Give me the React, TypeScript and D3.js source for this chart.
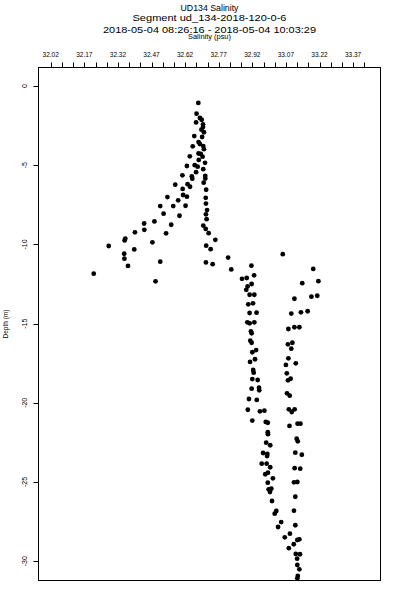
import React from "react";
import * as d3 from "d3";

const titleLines = [
  "UD134 Salinity",
  "Segment ud_134-2018-120-0-6",
  "2018-05-04 08:26:16 - 2018-05-04 10:03:29",
];
const xAxisLabel = "Salinity (psu)";
const yAxisLabel = "Depth (m)";

const xTickLabels = ["32.02", "32.17", "32.32", "32.47", "32.62", "32.77", "32.92", "33.07", "33.22", "33.37"];
const xMinorStart = 32.02;
const xMinorStep = 0.05;
const xMinorCount = 29;
const yTicks = [0, -5, -10, -15, -20, -25, -30];

const salinity = [
  32.679, 32.671, 32.686, 32.694, 32.669, 32.700, 32.700, 32.693, 32.704, 32.661,
  32.696, 32.680, 32.686, 32.701, 32.654, 32.704, 32.680, 32.690, 32.698, 32.641,
  32.681, 32.709, 32.628, 32.663, 32.676, 32.701, 32.669, 32.608, 32.650, 32.710,
  32.652, 32.710, 32.703, 32.576, 32.631, 32.642, 32.609, 32.714, 32.611, 32.628,
  32.541, 32.712, 32.589, 32.713, 32.509, 32.567, 32.622, 32.718, 32.524, 32.713,
  32.595, 32.716, 32.483, 32.437, 32.558, 32.701, 32.712, 32.438, 32.396, 32.535,
  32.725, 32.353, 32.350, 32.755, 32.474, 32.714, 32.279, 32.393, 32.734, 32.348,
  33.056, 32.812, 32.349, 32.509, 32.713, 32.743, 32.916, 32.365, 33.192, 32.826,
  32.212, 32.928, 32.874, 32.895, 32.488, 33.215, 33.143, 32.917, 32.899, 32.893,
  32.908, 32.929, 33.108, 33.184, 33.210, 32.902, 32.923, 32.908, 32.939, 33.094,
  33.137, 33.167, 32.898, 32.908, 32.929, 33.081, 33.108, 33.130, 32.914, 32.917,
  32.911, 32.917, 33.079, 33.099, 33.094, 32.920, 32.937, 32.910, 32.932, 33.081,
  33.070, 33.114, 32.924, 32.926, 33.074, 32.920, 32.944, 33.079, 33.091, 32.917,
  32.950, 32.951, 33.075, 33.087, 32.905, 32.940, 32.900, 32.954, 32.974, 33.083,
  33.109, 33.096, 32.920, 32.980, 32.989, 33.086, 33.122, 33.135, 32.989, 32.990,
  33.118, 33.123, 32.982, 33.000, 32.968, 32.987, 32.986, 33.112, 33.141, 32.962,
  32.984, 33.000, 33.109, 33.134, 32.978, 32.990, 33.012, 32.989, 33.106, 33.121,
  32.993, 33.005, 32.999, 33.112, 33.008, 33.027, 33.020, 33.106, 33.049, 33.035,
  33.112, 33.088, 33.065, 33.121, 33.130, 33.105, 33.083, 33.114, 33.133, 33.120,
  33.121, 33.130, 33.123, 33.121,
];

const depth = [
  -1.07, -1.75, -2.02, -2.13, -2.30, -2.42, -2.59, -2.76, -2.92, -3.16,
  -3.22, -3.54, -3.66, -3.79, -3.81, -3.99, -4.26, -4.29, -4.46, -4.44,
  -4.67, -4.85, -5.05, -5.00, -5.09, -5.25, -5.44, -5.64, -5.70, -5.67,
  -5.85, -5.84, -6.10, -6.23, -6.20, -6.36, -6.50, -6.55, -6.88, -6.99,
  -7.01, -7.06, -7.22, -7.42, -7.58, -7.58, -7.56, -7.83, -8.06, -8.10,
  -8.19, -8.41, -8.55, -8.68, -8.76, -8.81, -9.02, -9.08, -9.24, -9.30,
  -9.29, -9.63, -9.75, -9.71, -9.87, -10.08, -10.10, -10.32, -10.30, -10.59,
  -10.62, -10.83, -10.90, -11.09, -11.14, -11.25, -11.34, -11.36, -11.55, -11.58,
  -11.85, -11.95, -12.17, -12.12, -12.33, -12.32, -12.45, -12.50, -12.65, -12.87,
  -13.18, -13.18, -13.43, -13.30, -13.24, -13.78, -13.72, -14.33, -14.31, -14.37,
  -14.29, -14.22, -14.92, -14.98, -14.92, -15.34, -15.23, -15.23, -15.49, -15.61,
  -16.08, -16.21, -16.31, -16.21, -16.58, -16.81, -16.67, -17.42, -17.25, -17.19,
  -17.61, -17.51, -17.93, -18.10, -18.14, -18.50, -18.56, -18.58, -18.48, -19.11,
  -19.05, -19.21, -19.40, -19.55, -19.76, -19.82, -20.44, -20.54, -20.50, -20.41,
  -20.41, -20.58, -21.12, -21.21, -21.26, -21.46, -21.32, -21.32, -21.86, -21.98,
  -22.27, -22.43, -22.52, -22.68, -23.17, -23.23, -23.36, -23.15, -23.28, -23.84,
  -23.84, -24.07, -24.13, -24.16, -24.51, -24.41, -24.77, -25.04, -25.02, -25.00,
  -25.46, -25.42, -25.63, -25.93, -26.20, -26.83, -27.00, -26.81, -27.53, -27.84,
  -27.73, -28.26, -28.49, -28.66, -28.62, -28.93, -29.18, -29.54, -29.56, -29.84,
  -30.24, -30.51, -30.93, -31.08,
];

const W = 400;
const H = 600;
const plotLeft = 38.5;
const plotRight = 380.5;
const plotTop = 67.5;
const plotBottom = 580.5;
const FONT = "'Liberation Sans', Arial, Helvetica, sans-serif";

export default function App() {
  const x = d3.scaleLinear().domain([31.9655, 33.4923]).range([plotLeft, plotRight]);
  const y = d3.scaleLinear().domain([1.168, -31.218]).range([plotTop, plotBottom]);
  const cx = (plotLeft + plotRight) / 2;
  const minorTicks = d3.range(xMinorCount).map((i) => xMinorStart + i * xMinorStep);
  const points = salinity.map((s, i) => ({ s, d: depth[i] }));

  return (
    <svg
      width={W}
      height={H}
      style={{ position: "absolute", left: 0, top: 0, background: "#fff" }}
      fontFamily={FONT}
    >
      <rect x={0} y={0} width={W} height={H} fill="#fff" />
      <defs>
        <clipPath id="plotClip">
          <rect x={plotLeft} y={plotTop} width={plotRight - plotLeft} height={plotBottom - plotTop} />
        </clipPath>
      </defs>

      {/* titles */}
      <text x={cx} y={10.5} textAnchor="middle" fontSize={9.5} textLength={58} lengthAdjust="spacingAndGlyphs">
        {titleLines[0]}
      </text>
      <text x={cx} y={20.7} textAnchor="middle" fontSize={9.5} textLength={154} lengthAdjust="spacingAndGlyphs">
        {titleLines[1]}
      </text>
      <text x={cx} y={32.8} textAnchor="middle" fontSize={9.5} textLength={213} lengthAdjust="spacingAndGlyphs">
        {titleLines[2]}
      </text>
      <text x={cx} y={39.3} textAnchor="middle" fontSize={6.8} textLength={43} lengthAdjust="spacingAndGlyphs">
        {xAxisLabel}
      </text>

      {/* frame */}
      <rect
        x={plotLeft}
        y={plotTop}
        width={plotRight - plotLeft}
        height={plotBottom - plotTop}
        fill="none"
        stroke="#000"
        strokeWidth={1}
      />

      {/* top axis ticks */}
      {minorTicks.map((t, i) => {
        const px = Math.round(x(t)) + 0.5;
        return <line key={"mt" + i} x1={px} x2={px} y1={plotTop} y2={plotTop - 5} stroke="#000" strokeWidth={1} />;
      })}
      {xTickLabels.map((lab, i) => (
        <text key={"xl" + i} x={x(+lab)} y={57.3} textAnchor="middle" fontSize={6.5}>
          {lab}
        </text>
      ))}

      {/* left axis */}
      {yTicks.map((t, i) => {
        const py = Math.round(y(t)) + 0.5;
        return (
          <g key={"yt" + i}>
            <line x1={plotLeft - 5} x2={plotLeft} y1={py} y2={py} stroke="#000" strokeWidth={1} />
            <text
              transform={`translate(27,${y(t)}) rotate(-90)`}
              textAnchor="middle"
              fontSize={7}
            >
              {String(t).replace("-", "-")}
            </text>
          </g>
        );
      })}
      <text
        transform={`translate(7.5,${(plotTop + plotBottom) / 2}) rotate(-90)`}
        textAnchor="middle"
        fontSize={6.5}
      >
        {yAxisLabel}
      </text>

      {/* points */}
      <g clipPath="url(#plotClip)">
        {points.map((p, i) => (
          <circle key={"p" + i} cx={x(p.s)} cy={y(p.d)} r={2.4} fill="#000" />
        ))}
      </g>
    </svg>
  );
}
